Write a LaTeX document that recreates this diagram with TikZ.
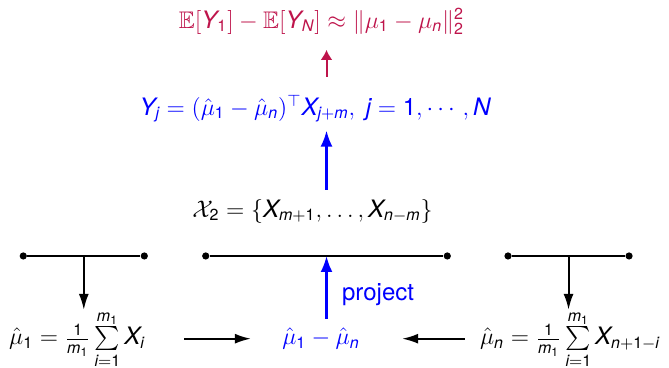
\documentclass[tikz,border=0pt,12pt]{standalone}
\usepackage{amsmath,amssymb}
\usepackage{mathspec}
\setmainfont{TeX Gyre Heros}
\setmathsfont(Digits,Latin){TeX Gyre Heros}
\usetikzlibrary{arrows.meta,calc}
\definecolor{cRed}{RGB}{190,20,75}
\definecolor{cBlu}{RGB}{0,0,255}

\begin{document}
\begin{tikzpicture}[
  lbl/.style={inner sep=0pt, anchor=base},
  dot/.style={circle, fill, inner sep=0pt, minimum size=3.6pt},
  seg/.style={line width=1pt},
  arr/.style={-{Latex[length=8pt,width=5pt]}, line width=1pt},
  barr/.style={arr, cBlu, line width=1.2pt, -{Latex[length=8pt,width=6pt]}},
  rarr/.style={arr, cRed, -{Latex[length=5pt,width=6pt]}}]
\useasboundingbox (0,0) rectangle (11.756,6.449);
\node[lbl, text=cRed] (gap) at (5.650,5.957) {$\mathbb{E}[Y_1]-\mathbb{E}[Y_N]\approx\|\mu_1-\mu_n\|_2^2$};
\node[lbl, text=cBlu] (score) at (5.536,4.428) {$Y_j=(\hat\mu_1-\hat\mu_n)^\top X_{j+m},\ j=1,\cdots,N$};
\node[lbl] (hold) at (5.492,2.635) {$\mathcal{X}_2=\{X_{m+1},\dots,X_{n-m}\}$};
\node[dot] (a1) at (0.409,1.951) {};
\node[dot] (a2) at (2.536,1.951) {};
\node[dot] (b1) at (3.615,1.951) {};
\node[dot] (b2) at (7.860,1.951) {};
\node[dot] (c1) at (8.927,1.951) {};
\node[dot] (c2) at (11.054,1.951) {};
\coordinate (am) at ($(a1)!0.5!(a2)$);
\coordinate (bm) at ($(b1)!0.5!(b2)$);
\coordinate (cm) at ($(c1)!0.5!(c2)$);
\node[lbl] (muone) at (1.353,0.387) {$\hat\mu_1=\frac{1}{m_1}\sum\limits_{i=1}^{m_1}X_i$};
\node[lbl, text=cBlu] (dmu) at (5.641,0.387) {$\hat\mu_1-\hat\mu_n$};
\node[lbl] (muen) at (10.017,0.387) {$\hat\mu_n=\frac{1}{m_1}\sum\limits_{i=1}^{m_1}X_{n+1-i}$};
\node[lbl, anchor=base west, text=cBlu] (projl) at (6.005,1.177) {project};
\draw[seg] (a1) -- (a2);
\draw[seg] (b1) -- (b2);
\draw[seg] (c1) -- (c2);
\draw[arr] (am) -- (am |- muone.north);
\draw[arr] (cm) -- (cm |- muen.north);
\draw[barr, shorten <=4.5pt] (bm |- dmu.north) -- (bm);
\draw[barr, shorten <=4.5pt, shorten >=4pt] (bm |- hold.north) -- (bm |- score.south);
\draw[rarr, shorten <=9pt, shorten >=7.5pt] (bm |- score.north) -- (bm |- gap.south);
\draw[arr, shorten <=19.5pt, shorten >=15.5pt] (muone.mid east) -- (dmu.mid west);
\draw[arr, shorten <=7.5pt, shorten >=21pt] (muen.mid west) -- (dmu.mid east);
\end{tikzpicture}
\end{document}
